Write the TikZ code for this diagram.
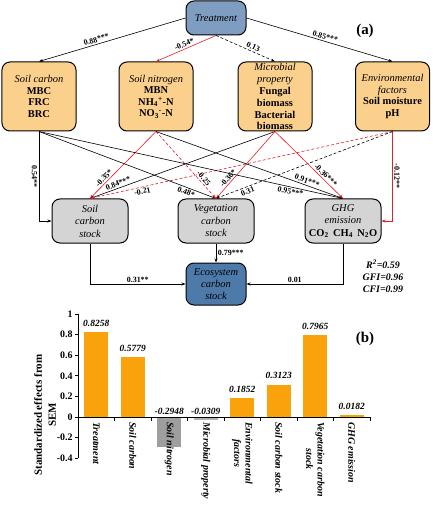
\documentclass[tikz,border=0pt]{standalone}
\usepackage{fontspec}
\setmainfont{Liberation Serif}
\usetikzlibrary{arrows.meta}

\definecolor{treatblue}{RGB}{127,157,193}
\definecolor{factororange}{RGB}{250,208,140}
\definecolor{stockgray}{RGB}{212,212,212}
\definecolor{ecoblue}{RGB}{78,122,170}
\definecolor{pathred}{RGB}{228,30,40}
\definecolor{barorange}{RGB}{250,162,12}
\definecolor{bargray}{RGB}{158,158,158}
\definecolor{barlight}{RGB}{178,178,178}

\begin{document}
\begin{tikzpicture}[x=1bp, y=-1bp,
        semnode/.style={draw, line width=1bp, rounded corners=8bp, inner sep=0pt, align=center, font=\fontsize{10.5}{11.5}\selectfont},
        factor/.style={semnode, fill=factororange, minimum width=74bp, minimum height=69bp},
        stock/.style={semnode, fill=stockgray, minimum width=76bp, minimum height=44bp, font=\fontsize{10.5}{12.5}\selectfont},
        semedge/.style={line width=0.6bp, -{Stealth[length=4bp,width=3bp]}},
        negedge/.style={semedge, draw=pathred},
        dashededge/.style={dash pattern=on 3bp off 2bp},
        coef/.style={font=\fontsize{8}{9}\selectfont\bfseries, inner sep=1.5bp},
        ticklbl/.style={font=\fontsize{10}{11}\selectfont\bfseries, inner sep=2bp},
        vallbl/.style={font=\fontsize{9.5}{10}\selectfont\bfseries\itshape, inner sep=0pt},
        catlbl/.style={font=\fontsize{10}{11.5}\selectfont\bfseries\itshape, align=center, inner sep=0pt},
    ]
                \useasboundingbox (0,0) rectangle (432,505);

                % (a) structural equation model
                \node [semnode, fill=treatblue, minimum width=60bp, minimum height=34bp] (treat) at (216,18) {\itshape Treatment};

                \node [factor] (soilc) at (39,96.5) {{\itshape Soil carbon}\\\bfseries MBC\\\bfseries FRC\\\bfseries BRC};
                \node [factor] (soiln) at (156,96.5) {{\itshape Soil nitrogen}\\\bfseries MBN\\\bfseries NH\textsubscript{4}\textsuperscript{+}-N\\\bfseries NO\textsubscript{3}\textsuperscript{-}-N};
                \node [factor, font=\fontsize{10.5}{12}\selectfont] (micro) at (275,96.5) {{\itshape Microbial}\\{\itshape property}\\\bfseries Fungal\\\bfseries biomass\\\bfseries Bacterial\\\bfseries biomass};
                \node [factor] (envf) at (392.5,96.5) {{\itshape Environmental}\\{\itshape factors}\\\bfseries Soil moisture\\\bfseries pH};

                \node [stock] (soilcs) at (90,221) {\itshape Soil\\\itshape carbon\\\itshape stock};
                \node [stock] (vegcs) at (216,221) {\itshape Vegetation\\\itshape carbon\\\itshape stock};
                \node [stock] (ghg) at (343,221) {{\itshape GHG}\\{\itshape emission}\\\bfseries CO\textsubscript{2}\, CH\textsubscript{4}\, N\textsubscript{2}O};

                \node [semnode, fill=ecoblue, minimum width=60bp, minimum height=42bp, font=\fontsize{10.5}{12}\selectfont] (eco) at (216,284) {\itshape Ecosystem\\\itshape carbon\\\itshape stock};

                \draw [semedge] (treat.west) -- node [coef, sloped, above, pos=0.6] {0.88***} (soilc.north);
                \draw [negedge] (treat.south) -- node [coef, sloped, above, pos=0.5] {-0.54*} (soiln.north);
                \draw [semedge, dashededge] (treat.south) -- node [coef, sloped, above, pos=0.6] {0.13} (micro.north);
                \draw [semedge] (treat.east) -- node [coef, sloped, above, pos=0.53] {0.85***} (envf.north);

                \draw [semedge] (soilc.south) |- node [coef, rotate=-90, anchor=north, pos=0.25] {0.54**} (soilcs.west);
                \draw [negedge] (envf.south) |- node [coef, rotate=-90, anchor=south, pos=0.25] {-0.12**} (ghg.east);

                \draw [negedge] (soiln.south) -- node [coef, sloped, above, pos=0.74] {-0.35*} (soilcs.north);
                \draw [semedge] (micro.south) -- node [coef, sloped, above, pos=0.84] {0.84***} (soilcs.north);
                \draw [negedge, dashededge] (envf.south) -- node [coef, sloped, below, pos=0.83] {-0.21} (soilcs.north);
                \draw [semedge] (soilc.south) -- node [coef, sloped, below, pos=0.84] {0.48*} (vegcs.north);
                \draw [negedge, dashededge] (soiln.south) -- node [coef, sloped, above, pos=0.74] {-0.25} (vegcs.north);
                \draw [negedge] (micro.south) -- node [coef, sloped, above, pos=0.74] {-0.36*} (vegcs.north);
                \draw [semedge, dashededge] (envf.south) -- node [coef, sloped, below, pos=0.83] {0.31} (vegcs.north);
                \draw [semedge] (soiln.south) -- node [coef, sloped, above, pos=0.8] {0.91***} (ghg.north);
                \draw [semedge] (soilc.south) -- node [coef, sloped, below, pos=0.83] {0.95***} (ghg.north);
                \draw [negedge] (micro.south) -- node [coef, sloped, above, pos=0.7] {-0.36***} (ghg.north);

                \draw [semedge] (soilcs.south) |- node [coef, above, pos=0.75] {0.31**} (eco.west);
                \draw [semedge] (vegcs.south) -- node [coef, right] {0.79***} (eco.north);
                \draw [semedge] (ghg.south) |- node [coef, above, pos=0.75] {0.01} (eco.east);

                \node [font=\fontsize{10}{12}\selectfont\bfseries\itshape, align=center] (fitidx) at (383,276) {R\textsuperscript{2}=0.59\\GFI=0.96\\CFI=0.99};
                \node [font=\fontsize{15}{16}\selectfont\bfseries] (taga) at (365,31) {(a)};

                % (b) standardized effects
                \foreach \v/\c [count=\i] in {0.8258/barorange, 0.5779/barorange, -0.2948/bargray, -0.0309/barlight, 0.1852/barorange, 0.3123/barorange, 0.7965/barorange, 0.0182/barorange} {
                    \fill [\c] ({78+36.5*\i-30.25},417) rectangle ({78+36.5*\i-6.25},{417-103*\v});
                    \pgfmathsetmacro\ly{\v>0 ? 408-103*\v : 411}
                    \node [vallbl] (val\i) at ({78+36.5*\i-18.25},\ly) {\v};
                }

                \draw [line width=0.8bp] (78,458) -- (78,314);
                \foreach \t [count=\i] in {1,0.8,0.6,0.4,0.2,0,-0.2,-0.4}
                    \draw [line width=0.8bp] (78,{417-103*\t}) -- ++(-3,0) node [ticklbl, left] (ytick\i) {\t};
                \draw [line width=0.8bp] (78,417) -- (370,417);
                \foreach \k in {1,...,8}
                    \draw [line width=0.8bp] ({78+36.5*\k},417) -- ++(0,4);

                \foreach \t [count=\i] in {Treatment, Soil carbon, Soil nitrogen, Microbial property, {Environmental\\factors}, Soil carbon stock, {Vegetation carbon\\stock}, GHG emission}
                    \node [catlbl, rotate=-90, anchor=west] (cat\i) at ({78+36.5*\i-18.25},422) {\t};

                \node [font=\fontsize{11}{14}\selectfont\bfseries, rotate=90, align=center] (ylab) at (45,415) {Standardized effects from\\SEM};
                \node [font=\fontsize{15}{16}\selectfont\bfseries] (tagb) at (365,339) {(b)};
\end{tikzpicture}
\end{document}
